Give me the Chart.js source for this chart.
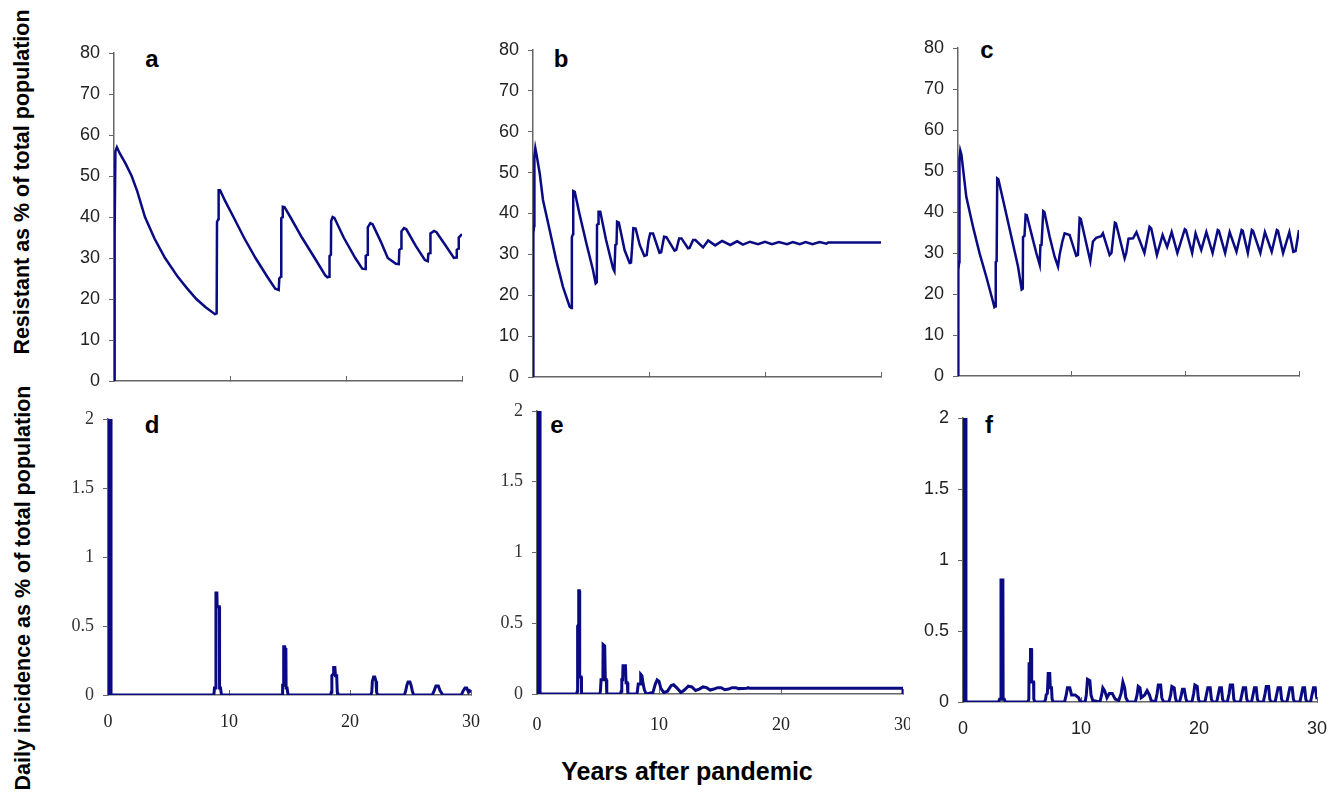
<!DOCTYPE html>
<html>
<head>
<meta charset="utf-8">
<script src="https://cdn.jsdelivr.net/npm/chart.js@4.4.1/dist/chart.umd.min.js"></script>
<style>
  body { margin: 0; background: #fff; width: 1338px; height: 797px; position: relative; overflow: hidden;
         font-family: "Liberation Sans", Arial, sans-serif; }
  canvas { position: absolute; }
  .letter { position: absolute; font-weight: bold; font-size: 24px; line-height: 24px; color: #000; transform: translateX(-50%); }
  .ytitle { position: absolute; font-weight: bold; font-size: 21.5px; white-space: nowrap; color: #000;
            transform: translate(-50%, -50%) rotate(-90deg); }
  .xtitle { position: absolute; font-weight: bold; font-size: 25px; white-space: nowrap; color: #000;
            transform: translate(-50%, -50%); }
</style>
</head>
<body>

<div class="ytitle" style="left:22px; top:182px;">Resistant as % of total population</div>
<div class="ytitle" style="left:23px; top:588px;">Daily incidence as % of total population</div>
<div class="xtitle" style="left:687px; top:771px;">Years after pandemic</div>

<div class="letter" style="left:152px; top:47px;">a</div>
<div class="letter" style="left:561px; top:47px;">b</div>
<div class="letter" style="left:987px; top:38px;">c</div>
<div class="letter" style="left:152px; top:413px;">d</div>
<div class="letter" style="left:557px; top:413px;">e</div>
<div class="letter" style="left:989px; top:413px;">f</div>

<script>
// tick values
const yearTicks = [0, 10, 20, 30];
const resistTicks = [0, 10, 20, 30, 40, 50, 60, 70, 80];
const incidTicks = [0, 0.5, 1, 1.5, 2];

// panel a - resistant %
const aYears = [0,0.03,0.08,0.12,0.25,0.5,1,1.52,2,2.67,3.5,4.4,5.5,6.3,7.1,7.9,8.7,8.85,8.88,9,
  9.02,9.15,9.6,10.3,11.2,12.2,13.2,13.9,14.2,14.25,14.4,14.42,14.52,14.55,14.7,15.2,16.2,17.3,18.2,18.4,
  18.55,18.58,18.7,18.72,18.85,19,19.8,20.8,21.4,21.65,21.7,21.85,21.88,22.1,22.3,23,23.6,24.3,24.55,24.6,
  24.75,24.78,25,25.2,26,26.8,27.05,27.1,27.25,27.28,27.6,27.8,28.6,29.3,29.5,29.55,29.7,29.72,30];
const aResistant = [0,35,36.5,56,57,55.5,53,50,46.3,40,34.7,30,25.4,22.6,20,18,16.3,16.5,38.8,39.5,
  46.5,46.5,43.8,40,35,30,25.5,22.5,22.2,25,25.5,39.7,40,42.5,42.4,40,35,30,25.8,25.3,
  25.4,30.5,30.8,39,40,39.8,35,30,27.4,27.3,30.5,30.8,37.5,38.5,38.2,34,30,28.6,28.5,32,
  32.3,36.5,37.3,37,33,29.5,29.2,31,31.2,36,36.6,36.3,33,30,30.1,32,32.3,35,35.8];

// panel b - resistant %
const bYears = [0,0.03,0.1,0.12,0.2,0.3,0.58,0.86,1.44,2,2.59,3.16,3.3,3.35,3.45,3.47,3.6,4,4.6,5.17,
  5.4,5.5,5.52,5.62,5.65,5.8,6.3,6.9,7.02,7.1,7.2,7.25,7.4,7.9,8.33,8.45,8.55,8.65,8.85,9.2,
  9.6,9.8,9.95,10.1,10.35,10.9,11.05,11.3,11.5,12.2,12.35,12.6,12.8,13.36,13.5,13.8,14,14.66,15.1,15.7,
  16.3,17,17.6,18.1,18.7,19.4,20,20.6,21.2,21.9,22.4,23,23.5,24.1,24.7,25.3,25.45,30];
const bResistant = [0,35.2,37,54,56,54.5,49.8,43.3,35.9,28.6,22,17.2,16.9,34.2,35,45.5,45.3,40,32.7,26.2,
  22.9,23.2,37.2,37.5,40.4,40.4,33.5,26.6,25.9,32.3,32.5,38,37.8,31,27.9,28,32,36.4,36.3,32.3,
  29.6,29.8,33.2,35.1,35.1,30.4,30.5,34.3,34.2,30.9,31.1,33.9,33.9,31.5,31.6,33.5,33.5,31.7,33.4,32.2,
  33.3,32.3,33.2,32.4,33.1,32.5,33.1,32.5,33,32.5,33,32.5,33,32.5,33,32.6,32.9,32.9];

// panel c - resistant %
const cYears = [0,0.03,0.1,0.13,0.2,0.3,0.73,1.32,1.9,2.49,3.08,3.2,3.3,3.32,3.4,3.45,3.55,4.1,4.69,5.28,
  5.6,5.7,5.72,5.85,5.95,6.05,6.45,6.89,7.19,7.25,7.35,7.5,7.6,8.06,8.5,8.8,8.94,9.18,9.38,9.82,
  10.4,10.55,10.7,10.8,11.64,11.87,12.16,12.6,12.75,13.34,13.5,13.8,13.9,14.66,14.8,15,15.4,15.7,16.4,16.85,
  17,17.5,18,18.4,18.8,19.3,19.95,20.05,20.6,20.9,21.4,21.85,22.4,22.85,22.95,23.5,23.9,24.5,24.95,25.05,
  25.5,25.85,25.95,26.6,27,27.6,28.05,28.15,28.6,29.15,29.5,29.7,30];
const cResistant = [0,25.9,27.8,53,55,54,43.7,36.4,29.9,24.2,18.1,16.8,17,27.8,28,48.2,48,41.3,34,26.7,
  21.1,21.3,33.9,34.2,39.3,39.2,34.8,30,27.1,31.9,32,40.2,40,34,29.1,26.7,29.6,32.8,34.8,34.4,
  29.3,29.5,38.5,38.3,28,32.8,33.7,34.1,34.8,29.5,30,37.4,37.2,28.7,30,33.5,33.6,35.1,30,36.4,
  36,29.5,34.4,31.5,35.1,30,35.8,35.6,30,34.8,30.7,35.1,30,35.6,35.4,30,35.1,30.3,35.6,35.4,
  30,35.6,35.4,30,35.1,30.3,35.6,35.4,30,35.1,30.3,30.5,35.6];

// panel d - daily incidence %
const dYears = [0,0.05,0.05,0.25,0.25,
  8.75,8.8,8.9,8.92,9,9.02,9.2,9.22,9.3,9.38,
  14.4,14.43,14.5,14.52,14.6,14.62,14.7,14.72,14.8,14.88,
  18.4,18.45,18.5,18.6,18.65,18.75,18.8,18.9,18.95,19,
  21.7,21.8,21.85,21.95,22.05,22.15,22.2,22.3,
  24.5,24.6,24.7,24.8,24.95,25.05,25.15,25.25,
  26.8,26.95,27.1,27.3,27.45,27.6,27.7,
  29.2,29.35,29.5,29.65,29.8,29.9,30];
const dIncidence = [0,0,2,2,0,
  0,0.05,0.05,0.74,0.74,0.64,0.64,0.05,0.05,0,
  0,0.07,0.07,0.35,0.35,0.33,0.33,0.05,0.05,0,
  0,0.02,0.14,0.15,0.2,0.2,0.14,0.14,0.02,0,
  0,0.02,0.1,0.13,0.13,0.1,0.02,0,
  0,0.03,0.07,0.095,0.095,0.07,0.03,0,
  0,0.03,0.065,0.065,0.03,0.01,0,
  0,0.03,0.05,0.05,0.02,0.03,0.02];

// panel e - daily incidence %
const eYears = [0,0.05,0.05,0.25,0.25,
  3.25,3.3,3.33,3.4,3.42,3.47,3.5,3.62,3.65,
  5.15,5.2,5.25,5.4,5.42,5.55,5.6,5.68,5.72,
  6.85,6.9,6.95,7.02,7.05,7.25,7.3,7.4,7.45,
  8.2,8.3,8.45,8.5,8.6,8.7,8.8,8.95,
  9.5,9.7,9.85,10,10.15,10.4,10.7,11,11.2,11.5,11.8,12.1,12.4,12.7,13,13.3,13.6,13.9,14.2,14.5,
  14.8,15.1,15.4,15.7,16,16.3,16.5,17.2,17.3,17.45,30,30];
const eIncidence = [0,0,2,2,0,
  0,0.02,0.48,0.49,0.73,0.73,0.12,0.12,0,
  0,0.02,0.1,0.1,0.35,0.34,0.1,0.1,0,
  0,0.02,0.1,0.1,0.2,0.2,0.08,0.08,0,
  0,0.07,0.07,0.14,0.13,0.07,0.03,0,
  0.01,0.07,0.1,0.09,0.04,0.01,0.02,0.06,0.065,0.04,0.01,0.03,0.055,0.05,0.025,0.035,0.05,0.045,0.028,0.035,
  0.045,0.045,0.03,0.035,0.045,0.045,0.038,0.04,0.045,0.04,0.04,0];

// panel f - daily incidence %
const fYears = [0,0.05,0.05,0.25,0.25,
  3,3.1,3.2,3.22,3.38,3.4,3.5,3.6,
  5.5,5.58,5.6,5.7,5.72,5.8,5.82,5.98,6,6.1,
  6.9,7,7.05,7.15,7.22,7.35,7.4,7.5,7.55,7.65,
  8.6,8.75,8.85,9.05,9.2,9.5,9.8,9.95,
  10.35,10.45,10.55,10.75,10.85,11,
  11.6,11.75,11.85,12,12.2,12.4,12.65,12.9,13.2,
  13.4,13.55,13.7,13.8,14,
  14.6,14.75,14.85,15,15.1,15.4,15.6,15.8,15.95,
  16.3,16.45,16.55,16.75,16.85,17,
  17.45,17.6,17.7,17.9,18,18.1,
  18.35,18.5,18.6,18.75,18.9,19,
  19.4,19.55,19.65,19.85,19.95,20.05,
  20.5,20.65,20.75,20.95,21.05,21.15,
  21.5,21.65,21.75,21.9,22,22.1,
  22.4,22.55,22.65,22.85,22.95,23.05,
  23.5,23.65,23.75,23.95,24.05,24.15,
  24.45,24.6,24.7,24.85,24.95,25.05,
  25.45,25.6,25.7,25.9,26,26.1,
  26.45,26.6,26.7,26.9,27,27.1,
  27.45,27.6,27.7,27.9,28,28.1,
  28.55,28.7,28.8,28.95,29.05,29.15,
  29.45,29.6,29.7,29.85,30];
const fIncidence = [0,0,2,2,0,
  0,0.02,0.02,0.86,0.86,0.02,0.02,0,
  0,0.02,0.27,0.27,0.37,0.37,0.14,0.14,0.02,0,
  0,0.02,0.05,0.06,0.2,0.2,0.1,0.1,0.02,0,
  0,0.05,0.1,0.1,0.05,0.05,0.03,0,
  0,0.05,0.16,0.15,0.05,0.01,
  0,0.05,0.1,0.08,0.03,0.06,0.06,0.02,0.01,
  0.06,0.14,0.1,0.03,0,
  0,0.05,0.11,0.1,0.03,0.05,0.08,0.05,0.01,
  0,0.06,0.12,0.12,0.03,0,
  0,0.05,0.11,0.1,0.03,0,
  0,0.05,0.09,0.09,0.02,0,
  0,0.06,0.12,0.11,0.02,0,
  0,0.06,0.1,0.1,0.02,0,
  0,0.06,0.1,0.1,0.02,0,
  0,0.06,0.12,0.12,0.02,0,
  0,0.06,0.1,0.1,0.02,0,
  0,0.06,0.1,0.1,0.02,0,
  0,0.06,0.11,0.11,0.02,0,
  0,0.06,0.1,0.1,0.02,0,
  0,0.06,0.1,0.1,0.02,0,
  0,0.06,0.1,0.1,0.02,0,
  0,0.06,0.1,0.1,0.02];

const lineColor = '#0a0a82';
const axisColor = '#666';
const sans = '"Liberation Sans", Arial, sans-serif';
const serif = '"Liberation Serif", "Times New Roman", serif';

// area = plot rectangle on the page (left, top, right, bottom)
function panel(area, years, values, yTicks, opts) {
  const padL = 60, padT = 12, axisH = 45;
  const padR = opts.padR || 16;
  const cv = document.createElement('canvas');
  const w = area.right - area.left + padL + padR;
  const h = area.bottom - area.top + padT + axisH;
  cv.width = w; cv.height = h;
  cv.style.width = w + 'px'; cv.style.height = h + 'px';
  cv.style.left = (area.left - padL) + 'px';
  cv.style.top = (area.top - padT) + 'px';
  document.body.appendChild(cv);

  const points = years.map((x, i) => ({ x: x, y: values[i] }));

  new Chart(cv, {
    type: 'line',
    data: {
      datasets: [{
        data: points,
        borderColor: lineColor,
        borderWidth: opts.lineWidth,
        pointRadius: 0,
        tension: 0,
        fill: false
      }]
    },
    options: {
      responsive: false,
      animation: false,
      devicePixelRatio: 1,
      layout: { padding: { left: 0, top: padT, right: padR, bottom: 0 } },
      plugins: { legend: { display: false }, tooltip: { enabled: false } },
      scales: {
        x: {
          type: 'linear',
          min: 0, max: 30,
          afterBuildTicks: s => { s.ticks = yearTicks.map(v => ({ value: v })); },
          afterFit: s => { s.height = axisH; s.paddingLeft = 0; s.paddingRight = 0; },
          border: { color: axisColor, width: 1.5 },
          grid: { drawOnChartArea: false, drawTicks: true, tickLength: -5, color: axisColor },
          ticks: {
            display: opts.showX,
            color: '#222',
            padding: opts.xPad || 21,
            maxRotation: 0,
            callback: v => String(v),
            font: { family: opts.xFont || sans, size: 18 }
          }
        },
        y: {
          min: yTicks[0], max: yTicks[yTicks.length - 1],
          afterBuildTicks: s => { s.ticks = yTicks.map(v => ({ value: v })); },
          afterFit: s => { s.width = padL; s.paddingTop = 0; s.paddingBottom = 0; },
          border: { color: axisColor, width: 1.5 },
          grid: { drawOnChartArea: false, drawTicks: true, tickLength: 5, color: axisColor },
          ticks: {
            color: opts.yColor || '#222',
            padding: 9,
            callback: v => String(v),
            font: { family: opts.yFont || sans, size: 18 }
          }
        }
      }
    }
  });
}

panel({ left: 114, top: 53, right: 462, bottom: 381 }, aYears, aResistant, resistTicks,
  { showX: false, lineWidth: 2.5 });
panel({ left: 533, top: 50, right: 881, bottom: 377 }, bYears, bResistant, resistTicks,
  { showX: false, lineWidth: 2.5 });
panel({ left: 958, top: 48, right: 1299, bottom: 376 }, cYears, cResistant, resistTicks,
  { showX: false, lineWidth: 2.5 });

panel({ left: 108, top: 419, right: 471, bottom: 695 }, dYears, dIncidence, incidTicks,
  { showX: true, lineWidth: 3, xFont: serif, yFont: serif, yColor: '#333', xPad: 21 });
panel({ left: 537, top: 411, right: 903, bottom: 694 }, eYears, eIncidence, incidTicks,
  { showX: true, lineWidth: 3, xFont: serif, yFont: serif, yColor: '#333', xPad: 25, padR: 7 });
panel({ left: 963, top: 418, right: 1317, bottom: 702 }, fYears, fIncidence, incidTicks,
  { showX: true, lineWidth: 3, xPad: 21 });
</script>
</body>
</html>
